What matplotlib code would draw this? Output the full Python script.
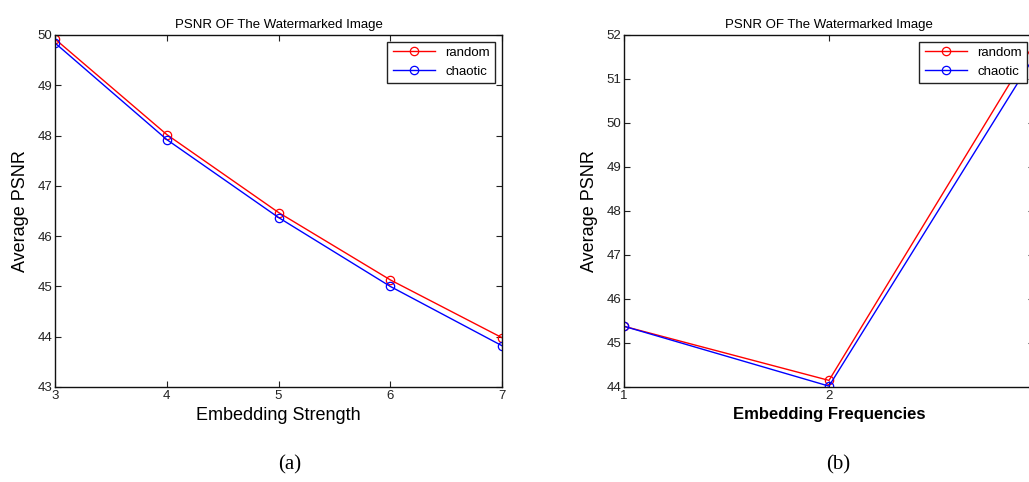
import matplotlib
matplotlib.use('Agg')
import matplotlib.pyplot as plt

plt.rcParams['font.family'] = ['Liberation Sans', 'DejaVu Sans']

## data
strength = [3, 4, 5, 6, 7]
psnr_strength_random = [49.92, 48.02, 46.47, 45.13, 43.98]
psnr_strength_chaotic = [49.84, 47.92, 46.37, 45.00, 43.82]

frequencies = [1, 2, 3]
freq_labels = ['1', '2', '']   # the "3" falls off the right edge of the page
psnr_freq_random = [45.38, 44.15, 51.80]
psnr_freq_chaotic = [45.38, 44.02, 51.50]

title = 'PSNR OF The Watermarked Image'

fig = plt.figure(figsize=(10.29, 4.82), dpi=100)
ax1 = fig.add_axes([0.0535, 0.1971, 0.4344, 0.7303])
ax2 = fig.add_axes([0.6064, 0.1971, 0.3984, 0.7303])


def style_axes(ax):
    ax.tick_params(direction='in', top=True, right=True, labelsize=9.5,
                   length=4, width=0.8, colors='#222222', pad=2)
    for sp in ax.spines.values():
        sp.set_linewidth(1.0)
        sp.set_color('#111111')


ax1.plot(strength, psnr_strength_random, color='red', marker='o', mfc='none',
         ms=6, lw=1.0, mew=0.9, label='random')
ax1.plot(strength, psnr_strength_chaotic, color='blue', marker='o', mfc='none',
         ms=6, lw=1.0, mew=0.9, label='chaotic')
ax1.set_xlim(3, 7)
ax1.set_ylim(43, 50)
ax1.set_xticks(strength)
ax1.set_yticks(range(43, 51))
ax1.set_title(title, fontsize=9.5, pad=5)
ax1.set_xlabel('Embedding Strength', fontsize=13, labelpad=4)
ax1.set_ylabel('Average PSNR', fontsize=13, labelpad=6)
style_axes(ax1)
ax1.legend(loc='upper right', fontsize=9.5, fancybox=False, edgecolor='#222222',
           framealpha=1, borderaxespad=0.5, handlelength=3.2)

ax2.plot(frequencies, psnr_freq_random, color='red', marker='o', mfc='none',
         ms=6, lw=1.0, mew=0.9, label='random')
ax2.plot(frequencies, psnr_freq_chaotic, color='blue', marker='o', mfc='none',
         ms=6, lw=1.0, mew=0.9, label='chaotic')
ax2.set_xlim(1, 3)
ax2.set_ylim(44, 52)
ax2.set_xticks(frequencies)
ax2.set_xticklabels(freq_labels)
ax2.set_yticks(range(44, 53))
ax2.set_title(title, fontsize=9.5, pad=5)
ax2.set_xlabel('Embedding Frequencies', fontsize=12, fontweight='bold', labelpad=4)
ax2.set_ylabel('Average PSNR', fontsize=13, labelpad=6)
style_axes(ax2)
ax2.legend(loc='upper right', fontsize=9.5, fancybox=False, edgecolor='#222222',
           framealpha=1, borderaxespad=0.5, handlelength=3.2)

fig.text(0.282, 0.025, '(a)', fontsize=15, family='Liberation Serif', ha='center')
fig.text(0.815, 0.025, '(b)', fontsize=15, family='Liberation Serif', ha='center')

fig.savefig('out.png', dpi=100)
